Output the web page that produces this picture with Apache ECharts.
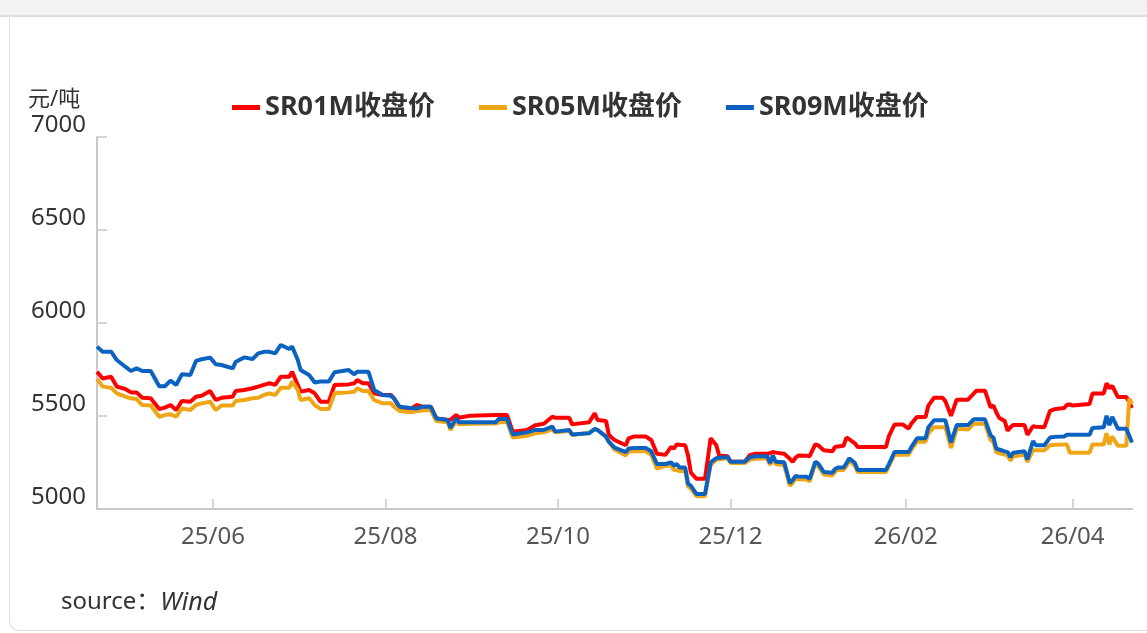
<!DOCTYPE html>
<html>
<head>
<meta charset="utf-8">
<script src="https://cdn.jsdelivr.net/npm/echarts@6/dist/echarts.min.js"></script>
<style>
  html, body { margin: 0; padding: 0; background: #fff; }
  #top { position: absolute; left: 0; top: 0; width: 1147px; height: 15px; background: #f2f2f2; border-bottom: 2px solid #dcdcdc; }
  #card { position: absolute; left: 9px; top: 17px; width: 1160px; height: 613px; border-left: 1px solid #dedede; border-bottom: 1px solid #dedede; border-bottom-left-radius: 10px; }
  #chart { position: absolute; left: 0; top: 0; width: 1147px; height: 633px; }
</style>
</head>
<body>
<div id="top"></div>
<div id="card"></div>
<div id="chart"></div>
<script>
// 采样日期（读图所得的转折点）
const dates = [
  '2025-04-21','2025-04-23','2025-04-26','2025-04-28','2025-05-01','2025-05-03','2025-05-05','2025-05-07',
  '2025-05-10','2025-05-13','2025-05-15','2025-05-17','2025-05-19','2025-05-21','2025-05-24','2025-05-26',
  '2025-05-28','2025-05-31','2025-06-02','2025-06-04','2025-06-08','2025-06-09','2025-06-12','2025-06-15',
  '2025-06-17','2025-06-19','2025-06-21','2025-06-23','2025-06-25','2025-06-28','2025-06-29','2025-07-01',
  '2025-07-02','2025-07-05','2025-07-07','2025-07-09','2025-07-12','2025-07-14','2025-07-19','2025-07-21',
  '2025-07-22','2025-07-24','2025-07-26','2025-07-28','2025-07-31','2025-08-03','2025-08-04','2025-08-06',
  '2025-08-10','2025-08-12','2025-08-14','2025-08-17','2025-08-19','2025-08-23','2025-08-24','2025-08-26',
  '2025-08-27','2025-08-31','2025-09-09','2025-09-10','2025-09-13','2025-09-15','2025-09-20','2025-09-23',
  '2025-09-26','2025-09-29','2025-09-30','2025-10-05','2025-10-06','2025-10-12','2025-10-14','2025-10-15',
  '2025-10-18','2025-10-19','2025-10-21',
  '2025-10-25','2025-10-26','2025-10-28','2025-11-01','2025-11-03','2025-11-05','2025-11-08','2025-11-10',
  '2025-11-11','2025-11-12','2025-11-13','2025-11-15','2025-11-16','2025-11-17','2025-11-19','2025-11-22',
  '2025-11-24','2025-11-26','2025-11-27','2025-11-30','2025-12-01','2025-12-06','2025-12-08','2025-12-10',
  '2025-12-14','2025-12-15','2025-12-16','2025-12-17','2025-12-20','2025-12-22','2025-12-23','2025-12-24',
  '2025-12-25','2025-12-28','2025-12-29','2025-12-31','2026-01-01','2026-01-03','2026-01-06','2026-01-07',
  '2026-01-08','2026-01-10','2026-01-11','2026-01-12','2026-01-14','2026-01-15','2026-01-25','2026-01-26',
  '2026-01-28','2026-01-31','2026-02-02','2026-02-03','2026-02-05','2026-02-08','2026-02-09','2026-02-11',
  '2026-02-14','2026-02-15','2026-02-17','2026-02-19','2026-02-23','2026-02-25','2026-02-26','2026-03-01',
  '2026-03-03','2026-03-04','2026-03-05','2026-03-06','2026-03-08','2026-03-09','2026-03-10','2026-03-11',
  '2026-03-15','2026-03-16','2026-03-18','2026-03-19','2026-03-22','2026-03-24','2026-03-26','2026-03-29',
  '2026-03-30','2026-03-31','2026-04-01','2026-04-07','2026-04-08','2026-04-12','2026-04-13','2026-04-14',
  '2026-04-15','2026-04-17','2026-04-20','2026-04-21','2026-04-22'
];

const sr01 = [
  5738,5702,5711,5658,5645,5627,5627,5598,5595,5538,5545,5559,5532,5581,5577,5604,
  5609,5634,5586,5598,5604,5634,5640,5649,5658,5667,5676,5667,5711,5711,5738,5667,
  5631,5640,5622,5577,5577,5667,5670,5676,5693,5676,5676,5622,5613,5613,5595,5545,
  5538,5559,5550,5550,5487,5478,5480,5505,5491,5502,5505,5505,5505,5416,5425,5450,
  5458,5496,5491,5491,5455,5466,5514,5478,5473,5398,5371,
  5343,5380,5390,5390,5371,5297,5291,5334,5325,5347,5345,5343,5288,5195,5162,5162,
  5380,5343,5288,5284,5254,5254,5291,5297,5297,5300,5306,5303,5297,5270,5254,5275,
  5288,5286,5284,5347,5343,5316,5310,5334,5336,5340,5384,5375,5353,5334,5334,5390,
  5454,5454,5432,5460,5495,5495,5556,5598,5598,5580,5501,5588,5588,5620,5636,5636,
  5547,5556,5520,5491,5473,5421,5440,5451,5451,5399,5445,5442,5440,5528,5538,5543,
  5560,5562,5556,5565,5621,5621,5676,5649,5662,5602,5602,5575,5543
];

const sr05 = [
  5699,5658,5652,5622,5604,5595,5591,5559,5556,5496,5505,5509,5496,5541,5532,5559,
  5568,5577,5532,5556,5556,5581,5586,5595,5598,5613,5622,5613,5652,5652,5685,5640,
  5586,5595,5559,5538,5538,5622,5627,5630,5649,5634,5634,5586,5568,5568,5550,5527,
  5520,5527,5530,5532,5473,5466,5425,5473,5455,5458,5460,5465,5469,5384,5394,5407,
  5412,5428,5412,5419,5398,5410,5430,5425,5390,5360,5320,
  5288,5310,5310,5310,5292,5217,5232,5232,5210,5210,5204,5204,5121,5110,5069,5069,
  5236,5266,5268,5273,5247,5247,5266,5270,5273,5236,5273,5242,5236,5125,5140,5162,
  5160,5158,5149,5242,5230,5186,5180,5200,5210,5210,5230,5260,5232,5199,5199,5230,
  5292,5292,5292,5320,5362,5362,5408,5440,5440,5440,5328,5432,5427,5458,5458,5458,
  5371,5360,5306,5300,5292,5288,5260,5284,5292,5254,5316,5316,5316,5343,5345,5347,
  5347,5303,5303,5303,5347,5347,5408,5347,5390,5340,5340,5593,5565
];

const sr09 = [
  5873,5846,5846,5801,5765,5742,5756,5742,5742,5660,5660,5690,5667,5724,5720,5796,
  5805,5814,5778,5774,5756,5790,5815,5806,5837,5845,5845,5837,5882,5860,5873,5801,
  5747,5720,5680,5685,5685,5735,5747,5724,5738,5738,5738,5640,5613,5609,5595,5550,
  5543,5540,5550,5550,5487,5478,5437,5487,5466,5466,5466,5484,5484,5401,5412,5425,
  5425,5443,5416,5425,5401,5407,5430,5425,5389,5362,5330,
  5306,5325,5328,5328,5310,5242,5242,5251,5232,5242,5223,5223,5136,5125,5080,5080,
  5251,5273,5275,5279,5254,5254,5279,5284,5284,5247,5288,5254,5251,5140,5155,5177,
  5175,5173,5162,5254,5245,5199,5195,5215,5223,5223,5245,5273,5247,5210,5210,5240,
  5306,5306,5306,5334,5380,5380,5440,5477,5477,5477,5358,5451,5451,5482,5482,5482,
  5395,5384,5325,5320,5310,5306,5279,5303,5310,5266,5365,5343,5343,5384,5388,5390,
  5399,5399,5399,5399,5436,5440,5501,5451,5495,5432,5432,5395,5358
];

const seriesNames = ['SR01M收盘价', 'SR05M收盘价', 'SR09M收盘价'];
const seriesColors = ['#ff0000', '#efa616', '#0c62c0'];
const yTicks = { min: 5000, max: 7000, interval: 500 };
const firstDay = '2025-04-21';
const lastDay = '2026-04-22';

// 横轴：逐日的类目
const days = [];
for (let t = new Date(firstDay + 'T00:00:00Z'); t <= new Date(lastDay + 'T00:00:00Z'); t.setUTCDate(t.getUTCDate() + 1)) {
  days.push(t.toISOString().slice(0, 10));
}

// 偶数月的1号显示刻度和标签
const isLabelDay = (idx, value) => value.slice(8) === '01' && parseInt(value.slice(5, 7), 10) % 2 === 0;

const font = '"Noto Sans", "Noto Sans CJK SC", sans-serif';
const chart = echarts.init(document.getElementById('chart'), null, { renderer: 'canvas' });

chart.setOption({
  animation: false,
  textStyle: { fontFamily: font },
  color: seriesColors,
  grid: { left: 97, right: 15, top: 137, bottom: 124 },
  legend: {
    left: 227,
    top: 89,
    icon: 'rect',
    itemWidth: 28,
    itemHeight: 5,
    itemGap: 44,
    textStyle: { fontSize: 27, fontWeight: 'bold', color: '#333', fontFamily: font },
    data: seriesNames
  },
  xAxis: {
    type: 'category',
    data: days,
    boundaryGap: false,
    axisLine: { lineStyle: { color: '#c8c8c8', width: 2 } },
    axisTick: { show: true, inside: true, length: 10, interval: isLabelDay, lineStyle: { color: '#c8c8c8', width: 1.5 } },
    axisLabel: {
      interval: isLabelDay,
      margin: 16,
      fontSize: 24,
      color: '#555',
      formatter: v => v.slice(2, 4) + '/' + v.slice(5, 7)
    },
    splitLine: { show: false }
  },
  yAxis: {
    type: 'value',
    min: yTicks.min,
    max: yTicks.max,
    interval: yTicks.interval,
    axisLine: { show: true, lineStyle: { color: '#c8c8c8', width: 2 } },
    axisTick: { show: true, inside: true, length: 10, lineStyle: { color: '#c8c8c8', width: 1.5 } },
    axisLabel: { fontSize: 24, color: '#333', margin: 11, verticalAlign: 'bottom', formatter: v => String(v) },
    splitLine: { show: false }
  },
  graphic: [
    { type: 'text', left: 28, top: 89, style: { text: '元/吨', fontSize: 22, fill: '#333', fontFamily: font } },
    {
      type: 'text', left: 61, top: 590,
      style: {
        text: '{a|source：}{b|Wind}',
        fontFamily: font,
        rich: {
          a: { fontSize: 24, fill: '#333', fontFamily: font },
          b: { fontSize: 25, fill: '#333', fontStyle: 'italic', fontFamily: font }
        }
      }
    }
  ],
  series: [sr01, sr05, sr09].map((vals, i) => ({
    name: seriesNames[i],
    type: 'line',
    showSymbol: false,
    lineStyle: { width: 4, color: seriesColors[i] },
    data: dates.map((d, k) => [d, vals[k]])
  }))
});
</script>
</body>
</html>
